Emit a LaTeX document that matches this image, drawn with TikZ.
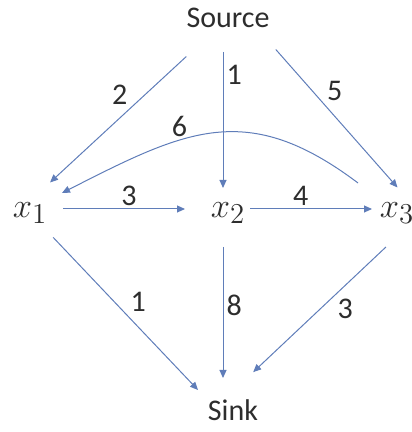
\documentclass[tikz,border=0pt]{standalone}
\usepackage{fontspec}
\setmainfont{Carlito}
\usetikzlibrary{arrows.meta}
\definecolor{edgeblue}{RGB}{95,125,185}
\definecolor{txtgray}{RGB}{45,45,45}

\begin{document}
\begin{tikzpicture}[x=0.5pt, y=0.5pt, >={Triangle[length=4pt,width=3.5pt]},
  every node/.style={text=txtgray, font=\fontsize{15}{18}\selectfont},
  var/.style={font=\fontsize{19}{22}\selectfont},
  flow/.style={->, draw=edgeblue, line width=0.5pt},
  lbl/.style={inner sep=1.5pt}]
  \useasboundingbox (0,0) rectangle (411,432);
  \node (src) at (228,414) {Source};
  \node[var] (x1) at (30,219) {$x_1$};
  \node[var] (x2) at (228,219) {$x_2$};
  \node[var] (x3) at (397,219) {$x_3$};
  \node (sink) at (233,22) {Sink};
  % edges out of the source
  \draw[flow, shorten <=28.4pt, shorten >=22.5pt] (src.center) -- ([xshift=-6.5pt]x1.center)
    node[lbl, pos=0.46, above left]{2};
  \draw[flow, shorten <=17pt, shorten >=12.5pt] ([xshift=-2.5pt]src.center) -- ([xshift=-2.5pt]x2.center)
    node[lbl, pos=0.29, right]{1};
  \draw[flow, shorten <=21pt, shorten >=17pt] ([xshift=10pt]src.center) -- ([xshift=11.5pt]x3.center)
    node[lbl, pos=0.44, above right]{5};
  % middle row
  \draw[flow, shorten <=16.5pt, shorten >=21.5pt] ([yshift=2pt]x1.center) -- ([yshift=2pt]x2.center)
    node[lbl, pos=0.5, above]{3};
  \draw[flow, shorten <=11pt, shorten >=12.5pt] ([yshift=2pt]x2.center) -- ([yshift=2pt]x3.center)
    node[lbl, pos=0.43, above]{4};
  \draw[flow] ([xshift=-19.5pt,yshift=15pt]x3.center) to[out=143, in=27, looseness=1.2]
    node[lbl, pos=0.63, above]{6} ([xshift=16pt,yshift=10pt]x1.center);
  % edges into the sink
  \draw[flow, shorten <=16.8pt, shorten >=13.8pt] (x1.center) -- ([xshift=-8pt]sink.center)
    node[lbl, pos=0.52, above right]{1};
  \draw[flow, shorten <=17pt, shorten >=16pt] ([xshift=-2.5pt]x2.center) -- ([xshift=-5pt]sink.center)
    node[lbl, pos=0.47, right]{8};
  \draw[flow, shorten <=24.8pt, shorten >=27.6pt] ([xshift=12.5pt]x3.center) -- ([xshift=-10pt]sink.center)
    node[lbl, pos=0.42, below right]{3};
\end{tikzpicture}
\end{document}
